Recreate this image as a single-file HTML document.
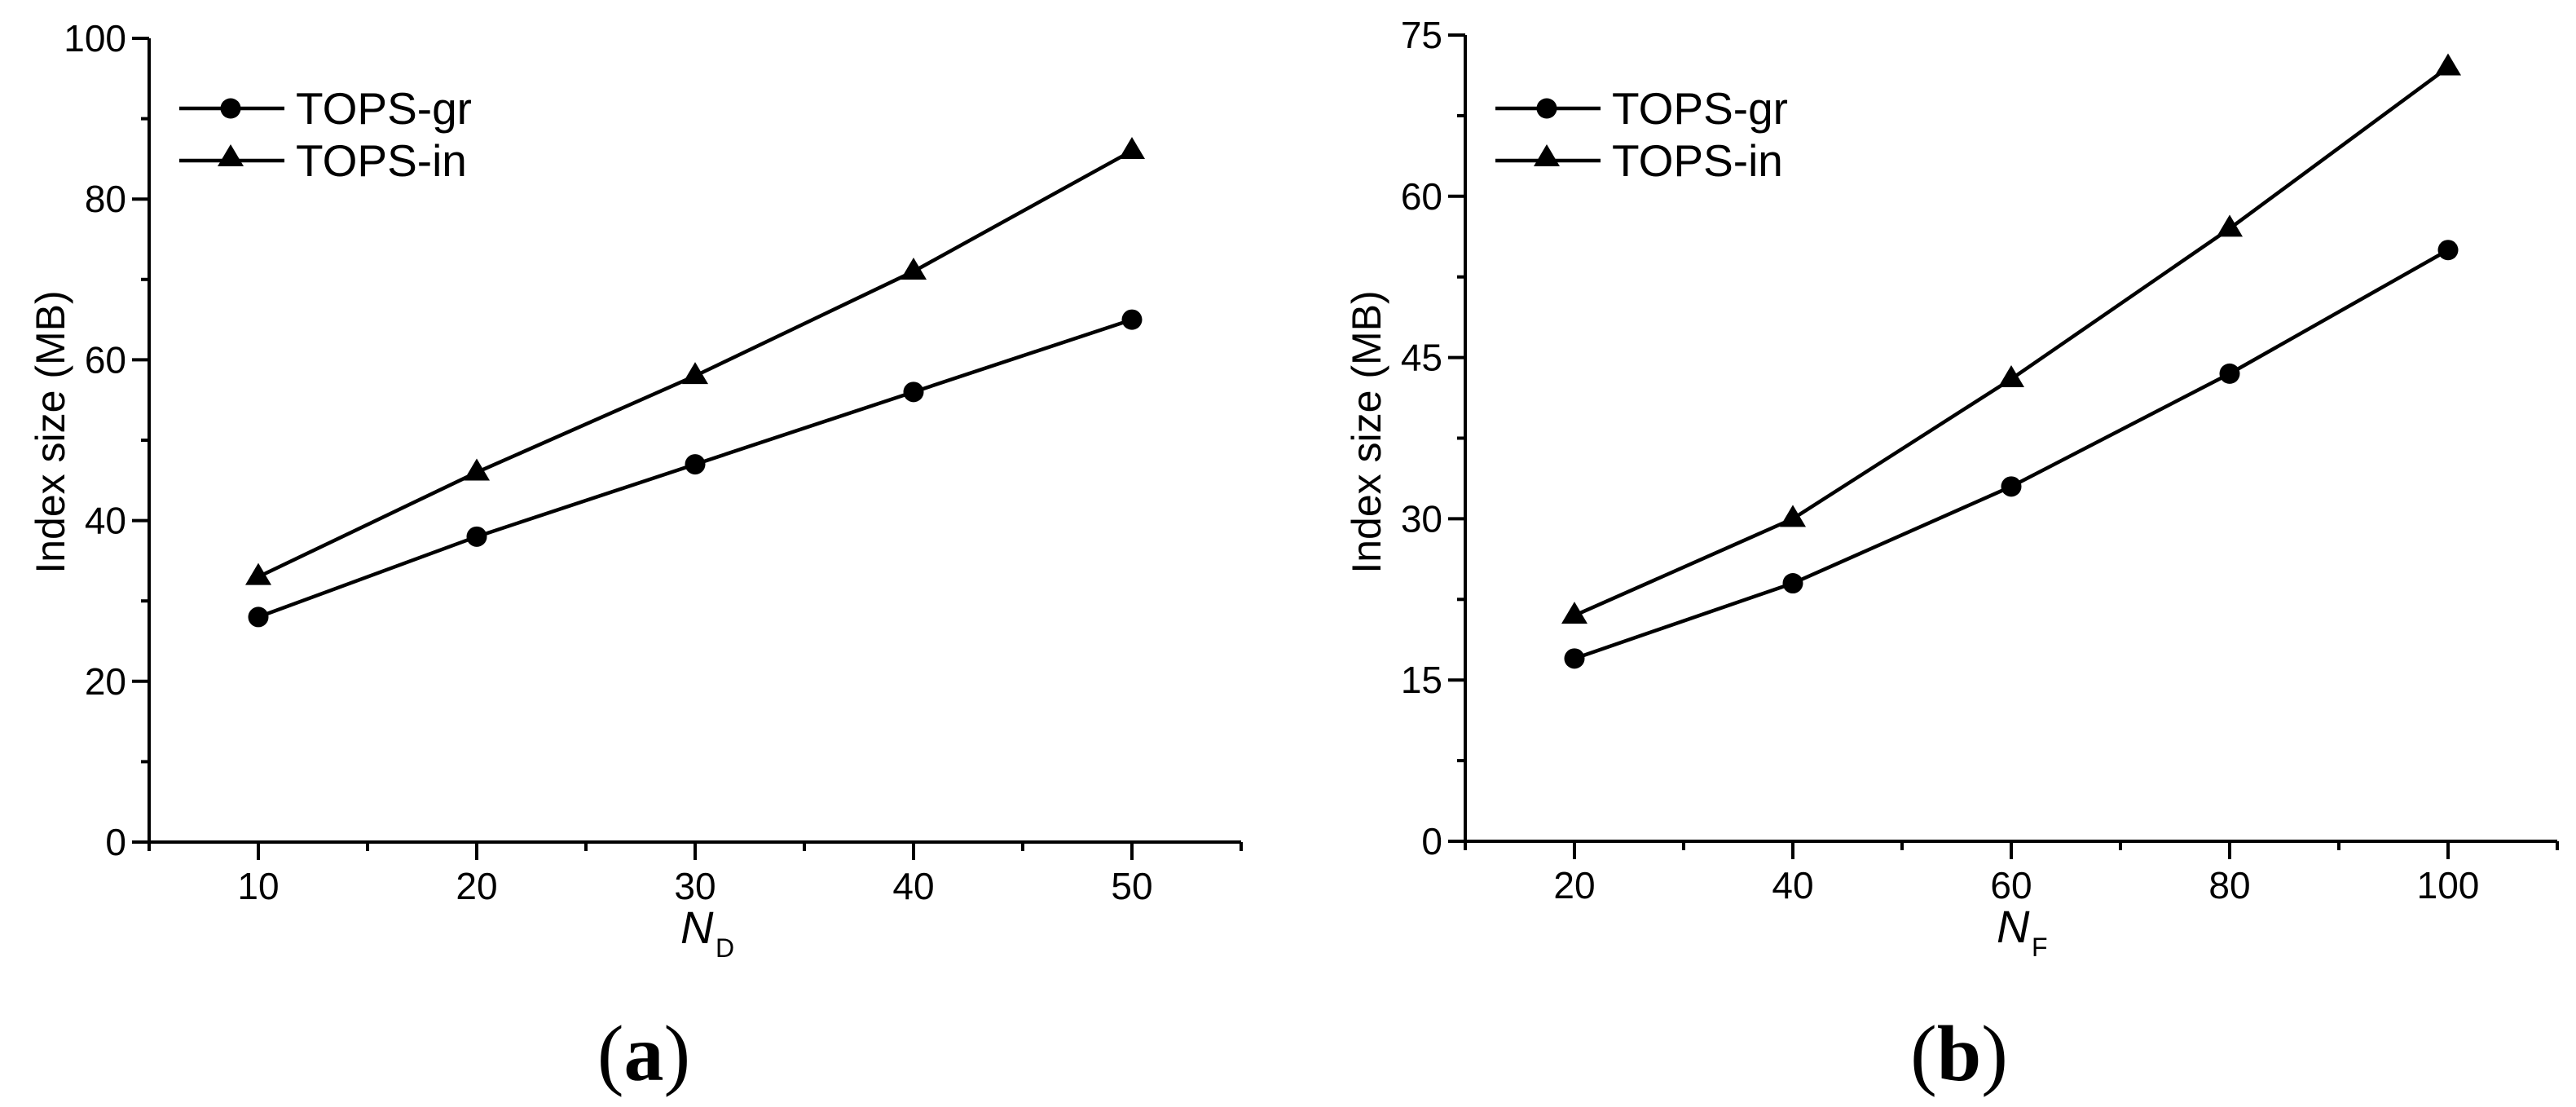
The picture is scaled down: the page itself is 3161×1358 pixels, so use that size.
<!DOCTYPE html>
<html><head><meta charset="utf-8"><style>
html,body{margin:0;padding:0;background:#fff;}
svg{display:block;}
text{font-family:"Liberation Sans",Arial,sans-serif;fill:#000;}
</style></head><body>
<svg id="fig" width="3161" height="1358" viewBox="0 0 3161 1358" xmlns="http://www.w3.org/2000/svg">
<g id="chartA"></g>
<g id="chartB"></g>
<text x="790" y="1325" text-anchor="middle" style="font-family:'Liberation Serif',serif;font-size:98px"><tspan>(</tspan><tspan font-weight="bold">a</tspan><tspan>)</tspan></text>
<text x="2404" y="1325" text-anchor="middle" style="font-family:'Liberation Serif',serif;font-size:98px"><tspan>(</tspan><tspan font-weight="bold">b</tspan><tspan>)</tspan></text>
</svg>
<script>
// Chart A data
const catsA = [10, 20, 30, 40, 50];
const grA = [28, 38, 47, 56, 65];
const inA = [33, 46, 58, 71, 86];
const xTicksA = [10, 20, 30, 40, 50];
const yTicksA = [0, 20, 40, 60, 80, 100];
// Chart B data
const catsB = [20, 40, 60, 80, 100];
const grB = [17, 24, 33, 43.5, 55];
const inB = [21, 30, 43, 57, 72];
const xTicksB = [20, 40, 60, 80, 100];
const yTicksB = [0, 15, 30, 45, 60, 75];

const NS = "http://www.w3.org/2000/svg";
function mk(parent, tag, attrs) {
  const e = document.createElementNS(NS, tag);
  for (const k in attrs) e.setAttribute(k, attrs[k]);
  parent.appendChild(e);
  return e;
}

function drawChart(g, cfg) {
  const {x0, x1, xmin, xmax, y0, y1, ymin, ymax, cats, gr, inn, xt, yt, xminor, yminor, sub, legX} = cfg;
  const sx = v => x0 + (v - xmin) / (xmax - xmin) * (x1 - x0);
  const sy = v => y0 - (v - ymin) / (ymax - ymin) * (y0 - y1);
  const axis = mk(g, 'path', {d: `M${x0 - 21},${y0} H${x1} M${x0},${y0 + 11} V${y1}`, stroke: '#000', 'stroke-width': 4, fill: 'none'});
  
  
  for (let v = xmin; v <= xmax + 1e-9; v += xminor) {
    const major = xt.includes(v);
    const t = mk(g, 'line', {x1: sx(v), x2: sx(v), y1: y0, y2: y0 + (major ? 22 : 11), stroke: '#000', 'stroke-width': 4});
    
    
  }
  for (let v = ymin; v <= ymax + 1e-9; v += yminor) {
    const major = yt.includes(v);
    const t = mk(g, 'line', {x1: x0, x2: x0 - (major ? 21 : 10), y1: sy(v), y2: sy(v), stroke: '#000', 'stroke-width': 4});
    
    
  }
  xt.forEach(v => {
    const t = mk(g, 'text', {x: sx(v), y: y0 + 70, 'text-anchor': 'middle', 'font-size': 46});
    t.textContent = v;
    
    
  });
  yt.forEach(v => {
    const t = mk(g, 'text', {x: x0 - 28, y: sy(v) + 16, 'text-anchor': 'end', 'font-size': 46});
    t.textContent = v;
    
    
  });
  const yl = mk(g, 'text', {transform: `translate(${x0 - 104},530) rotate(-90)`, 'text-anchor': 'middle', 'font-size': 50});
  yl.textContent = 'Index size (MB)';
  
  
  const mid = (x0 + x1) / 2;
  const xl = mk(g, 'text', {x: mid - 18, y: y0 + 124, 'font-size': 56, 'font-style': 'italic'});
  xl.textContent = 'N';
  
  
  const xs = mk(g, 'text', {x: mid + 25, y: y0 + 141, 'font-size': 32});
  xs.textContent = sub;
  
  

  function tri(cx, cy) {
    return `M${cx},${cy - 17} L${cx + 16},${cy + 10} L${cx - 16},${cy + 10} Z`;
  }
  const pGr = cats.map((c, i) => `${i ? 'L' : 'M'}${sx(c)},${sy(gr[i])}`).join(' ');
  const lg = mk(g, 'path', {d: pGr, stroke: '#000', 'stroke-width': 4.5, fill: 'none'});
  
  
  const pIn = cats.map((c, i) => `${i ? 'L' : 'M'}${sx(c)},${sy(inn[i])}`).join(' ');
  const li = mk(g, 'path', {d: pIn, stroke: '#000', 'stroke-width': 4.5, fill: 'none'});
  
  
  cats.forEach((c, i) => {
    const m = mk(g, 'circle', {cx: sx(c), cy: sy(gr[i]), r: 12.5, fill: '#000'});
    
    
    const t = mk(g, 'path', {d: tri(sx(c), sy(inn[i])), fill: '#000'});
    
    
  });
  const leg = mk(g, 'g', {});
  
  
  const rows = [['TOPS-gr', 133, 'c'], ['TOPS-in', 197, 't']];
  rows.forEach(([lbl, y, k]) => {
    const e = mk(leg, 'g', {});
    
    
    mk(e, 'line', {x1: legX, x2: legX + 129, y1: y, y2: y, stroke: '#000', 'stroke-width': 4.5});
    if (k === 'c') mk(e, 'circle', {cx: legX + 63, cy: y, r: 12.5, fill: '#000'});
    else mk(e, 'path', {d: tri(legX + 63, y - 3), fill: '#000'});
    const t = mk(e, 'text', {x: legX + 143, y: y + 19, 'font-size': 55});
    t.textContent = lbl;
  });
}

drawChart(document.getElementById('chartA'), {
  x0: 183, x1: 1523, xmin: 5, xmax: 55, y0: 1033, y1: 47, ymin: 0, ymax: 100,
  cats: catsA, gr: grA, inn: inA, xt: xTicksA, yt: yTicksA, xminor: 5, yminor: 10,
  sub: 'D', legX: 220
});
drawChart(document.getElementById('chartB'), {
  x0: 1798, x1: 3138, xmin: 10, xmax: 110, y0: 1032, y1: 43, ymin: 0, ymax: 75,
  cats: catsB, gr: grB, inn: inB, xt: xTicksB, yt: yTicksB, xminor: 10, yminor: 7.5,
  sub: 'F', legX: 1835
});
</script>
</body></html>
